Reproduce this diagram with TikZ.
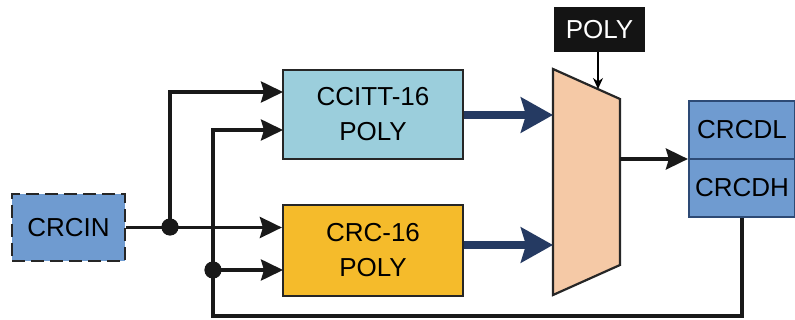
\documentclass[tikz,border=0pt]{standalone}
\usepackage{fontspec}
\setmainfont{Liberation Sans}
\usetikzlibrary{arrows.meta}
\definecolor{crcblue}{HTML}{6F9BD0}
\definecolor{ccittc}{HTML}{9BCEDC}
\definecolor{crcyel}{HTML}{F5BB2B}
\definecolor{muxc}{HTML}{F5C9A6}
\definecolor{navy}{HTML}{253A62}
\definecolor{regborder}{HTML}{2D4A75}
\tikzset{
  box/.style={draw=black!85, line width=2.2pt, inner sep=0pt, align=center, font=\fontsize{26}{35}\selectfont},
  reg/.style={draw=regborder, fill=crcblue, line width=2.2pt, inner sep=0pt, minimum width=106pt, minimum height=58pt, font=\fontsize{26}{30}\selectfont},
  conn/.style={line width=3.6pt, draw=black!90, -{Stealth[length=22pt,width=21pt,inset=3pt]}},
  bus/.style={line width=8.5pt, draw=navy, -{Stealth[length=32pt,width=35pt,inset=5pt]}},
  dot/.style={circle, fill=black!90, minimum size=17pt, inner sep=0pt},
}
\begin{document}
\begin{tikzpicture}[x=1pt,y=-1pt]
\useasboundingbox (0,0) rectangle (795,320);
% blocks
\node[box, line width=2.6pt, dash pattern=on 13pt off 6pt, fill=crcblue, minimum width=113pt, minimum height=67pt] (crcin) at (68.5,227.5) {CRCIN};
\node[box, fill=ccittc, minimum width=180pt, minimum height=89pt] (ccitt) at (373,114.5) {CCITT-16\\POLY};
\node[box, fill=crcyel, minimum width=180pt, minimum height=91pt] (crc16) at (373,250.5) {CRC-16\\POLY};
\node[fill=black!92, text=white, minimum width=91pt, minimum height=45pt, inner sep=0pt, font=\fontsize{26}{30}\selectfont] (poly) at (599.5,29.5) {POLY};
\node[reg] (crcdl) at (742,130) {CRCDL};
\node[reg] (crcdh) at (742,188) {CRCDH};
% mux
\coordinate (m1) at (553,69);
\coordinate (m2) at (620,99);
\coordinate (m3) at (620,265);
\coordinate (m4) at (553,295);
\draw[fill=muxc, line width=2.2pt, draw=black!85, line join=miter] (m1) -- (m2) -- (m3) -- (m4) -- cycle;
\coordinate (muxA) at (553,115);
\coordinate (muxB) at (553,245);
\coordinate (muxOut) at (620,159);
\coordinate (muxSel) at (598,89);
% junctions and ports
\node[dot] (j1) at (170,227) {};
\node[dot] (j2) at (213,270) {};
\coordinate (fb) at (213,316);
\coordinate (ccittIn1) at (283,92);
\coordinate (ccittIn2) at (283,130);
\coordinate (crcIn2) at (283,270);
% connectors
\draw[conn] (crcin.east) -- (crc16.west |- crcin.east);
\draw[conn] (j1.center) |- (ccittIn1);
\draw[conn] (crcdh.south) |- (fb) |- (ccittIn2);
\draw[conn] (j2.center) -- (crcIn2);
\draw[bus] (ccitt.east |- muxA) -- (muxA);
\draw[bus] (crc16.east |- muxB) -- (muxB);
\draw[conn] (muxOut) -- (crcdl.west |- muxOut);
\draw[line width=1.2pt, -{Stealth[length=11pt,width=10pt]}] (poly.south -| muxSel) -- (muxSel);
\node[dot] at (j1) {};
\node[dot] at (j2) {};
\end{tikzpicture}
\end{document}
